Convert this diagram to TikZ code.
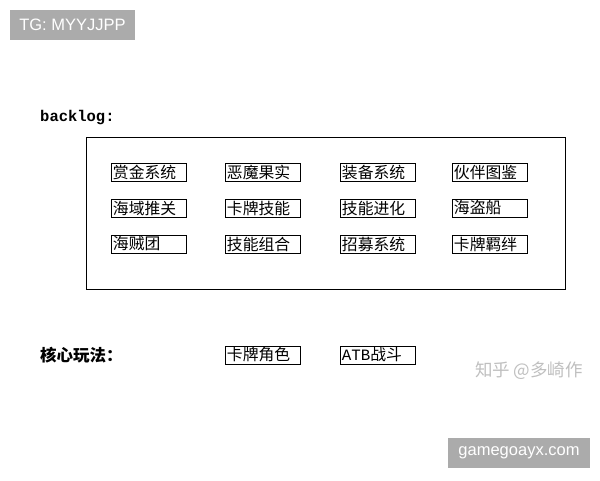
\documentclass[tikz,border=0pt]{standalone}
\usepackage{fontspec}
\setmainfont{Liberation Sans}
\setmonofont{Liberation Mono}
\newfontfamily\cjk{Noto Sans CJK SC}
\usetikzlibrary{positioning}

\begin{document}
\begin{tikzpicture}[x=1pt,y=-1pt,
		item/.style={draw,line width=0.9pt,anchor=west,inner sep=1.5pt,
			text width=72pt,align=left,minimum height=18pt,
			font=\cjk\fontsize{15.8}{15.8}\selectfont},
		heading/.style={anchor=west,inner sep=0pt,font=\bfseries\fontsize{14}{14}\selectfont},
		badge/.style={fill=black!33,text=white,inner sep=0pt,
			font=\fontsize{16.5}{16.5}\selectfont}]
	\useasboundingbox (0,0) rectangle (600,480);
	% badges
	\node[badge,minimum width=125pt,minimum height=30pt] (tg) at (72.5,25) {TG: MYYJJPP};
	\node[badge,minimum width=142pt,minimum height=30pt] (site) at (519,453) {gamegoayx.com};
	\node[text=black!25,font=\cjk\fontsize{17.5}{17.5}\selectfont] (zhihu) at (529,371) {知乎 @多崎作};
	% backlog
	\node[heading,font=\ttfamily\bfseries\fontsize{15.5}{15.5}\selectfont] (backlog) at (40,118) {backlog:};
	\node[draw,line width=0.8pt,minimum width=479pt,minimum height=152pt] (frame) at (325.5,213) {};
	\node[item] (bounty)     at (111,172) {赏金系统};
	\node[item] (devil)      at (225,172) {恶魔果实};
	\node[item] (equip)      at (340,172) {装备系统};
	\node[item] (partner)    at (452,172) {伙伴图鉴};
	\node[item] (seaarea)    at (111,208) {海域推关};
	\node[item] (cardskill)  at (225,208) {卡牌技能};
	\node[item] (skillevo)   at (340,208) {技能进化};
	\node[item] (ship)       at (452,208) {海盗船};
	\node[item] (crew)       at (111,244) {海贼团};
	\node[item] (combo)      at (225,244) {技能组合};
	\node[item] (recruit)    at (340,244) {招募系统};
	\node[item] (bond)       at (452,244) {卡牌羁绊};
	% core gameplay
	\node[heading,font=\cjk\bfseries\fontsize{16.5}{16.5}\selectfont] (core) at (40,355) {核心玩法：};
	\node[item] (cardrole)   at (225,355) {卡牌角色};
	\node[item] (atb)        at (340,355) {{\ttfamily ATB}战斗};
\end{tikzpicture}
\end{document}
